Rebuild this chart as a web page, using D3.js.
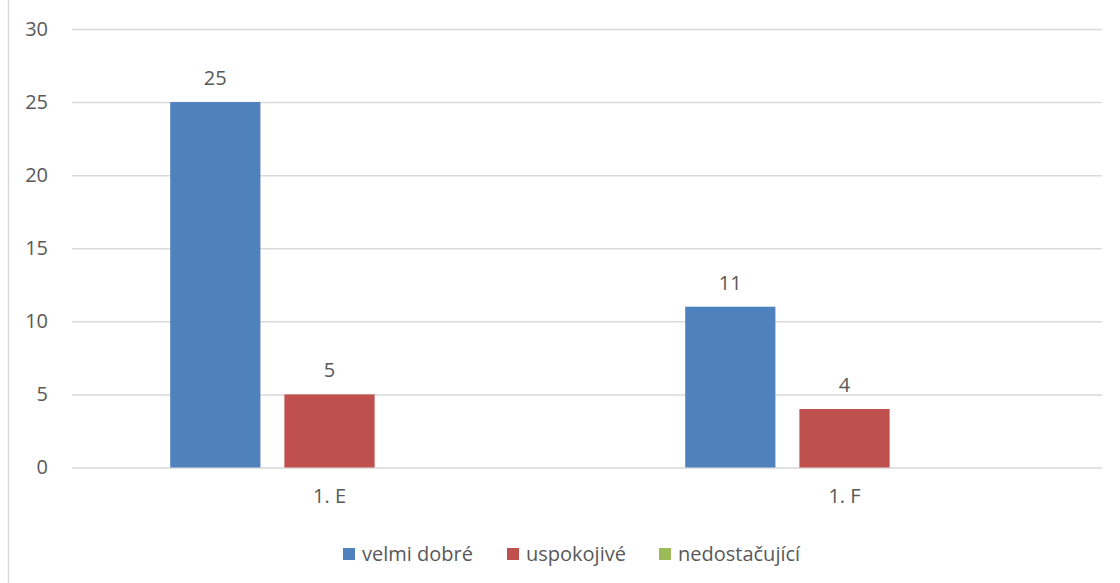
<!DOCTYPE html>
<html>
<head>
<meta charset="utf-8">
<script src="https://cdn.jsdelivr.net/npm/d3@7"></script>
<style>
  body { margin: 0; background: #fff; }
  text { font-family: "Open Sans", sans-serif; fill: #595959; }
</style>
</head>
<body>
<div id="chart"></div>
<script>
// chart data
const categories = ["1. E", "1. F"];
const seriesNames = ["velmi dobré", "uspokojivé", "nedostačující"];
const velmiDobre = [25, 11];
const uspokojive = [5, 4];
const nedostacujici = [0, 0];
const yTicks = [0, 5, 10, 15, 20, 25, 30];
const colors = ["#4f81bd", "#c0504d", "#9bbb59"];

const width = 1120;
const height = 583;
let marginLeft = 72;
let marginRight = 18;
let marginTop = 29;
let marginBottom = 115;
let fontSize = 20;

const seriesVals = [velmiDobre, uspokojive, nedostacujici];

const svg = d3.select("#chart")
    .append("svg")
    .attr("width", width)
    .attr("height", height)
    .attr("viewBox", [0, 0, width, height]);

// left edge of the chart frame
svg.append("line")
    .attr("x1", 8.5).attr("x2", 8.5)
    .attr("y1", 0).attr("y2", height)
    .attr("stroke", "#d9d9d9")
    .attr("stroke-width", 1.5);

const x = d3.scaleBand(categories, [marginLeft, width - marginRight]);
// inner band for the three series inside each category
const xs = d3.scaleBand(d3.range(seriesNames.length), [0, x.bandwidth()])
    .paddingInner(0.21)
    .paddingOuter(0.86);
const y = d3.scaleLinear([0, 30], [height - marginBottom - 0.5, marginTop]);

// grid lines + y labels
svg.append("g")
    .attr("transform", `translate(${marginLeft},0)`)
    .call(d3.axisLeft(y).tickValues(yTicks).tickSize(0).tickPadding(24))
    .call(g => g.select(".domain").remove())
    .call(g => g.selectAll(".tick text")
        .attr("font-size", fontSize)
        .attr("font-family", "'Open Sans', sans-serif")
        .attr("fill", "#595959"))
    .call(g => g.selectAll(".tick line").clone()
        .attr("x2", width - marginLeft - marginRight)
        .attr("stroke", "#d9d9d9")
        .attr("stroke-width", 1.5));

// bars
const groups = svg.append("g").selectAll("g")
    .data(categories)
    .join("g")
    .attr("transform", d => `translate(${x(d)},0)`);

groups.selectAll("rect")
    .data((d, i) => seriesVals.map((s, k) => ({k: k, v: s[i]})))
    .join("rect")
    .attr("x", d => xs(d.k))
    .attr("y", d => y(d.v))
    .attr("width", xs.bandwidth())
    .attr("height", d => y(0) - y(d.v))
    .attr("fill", d => colors[d.k]);

// value labels (only for non-zero visible series)
groups.selectAll("text.val")
    .data((d, i) => seriesVals.slice(0, 2).map((s, k) => ({k: k, v: s[i]})))
    .join("text")
    .attr("class", "val")
    .attr("x", d => xs(d.k) + xs.bandwidth() / 2)
    .attr("y", d => y(d.v) - 17)
    .attr("text-anchor", "middle")
    .attr("font-size", fontSize)
    .text(d => d.v);

// category labels
svg.append("g")
    .attr("transform", `translate(0,${y(0)})`)
    .call(d3.axisBottom(x).tickSize(0).tickPadding(21))
    .call(g => g.select(".domain").remove())
    .call(g => g.selectAll(".tick text")
        .attr("font-size", fontSize)
        .attr("font-family", "'Open Sans', sans-serif")
        .attr("fill", "#595959"));

// legend
const legendX = [343, 507, 659];
const legend = svg.append("g").selectAll("g")
    .data(seriesNames)
    .join("g")
    .attr("transform", (d, i) => `translate(${legendX[i]},548)`);
legend.append("rect")
    .attr("width", 12).attr("height", 12)
    .attr("fill", (d, i) => colors[i]);
legend.append("text")
    .attr("x", 19)
    .attr("y", 6)
    .attr("dy", "0.35em")
    .attr("font-size", fontSize)
    .text(d => d);
</script>
</body>
</html>
